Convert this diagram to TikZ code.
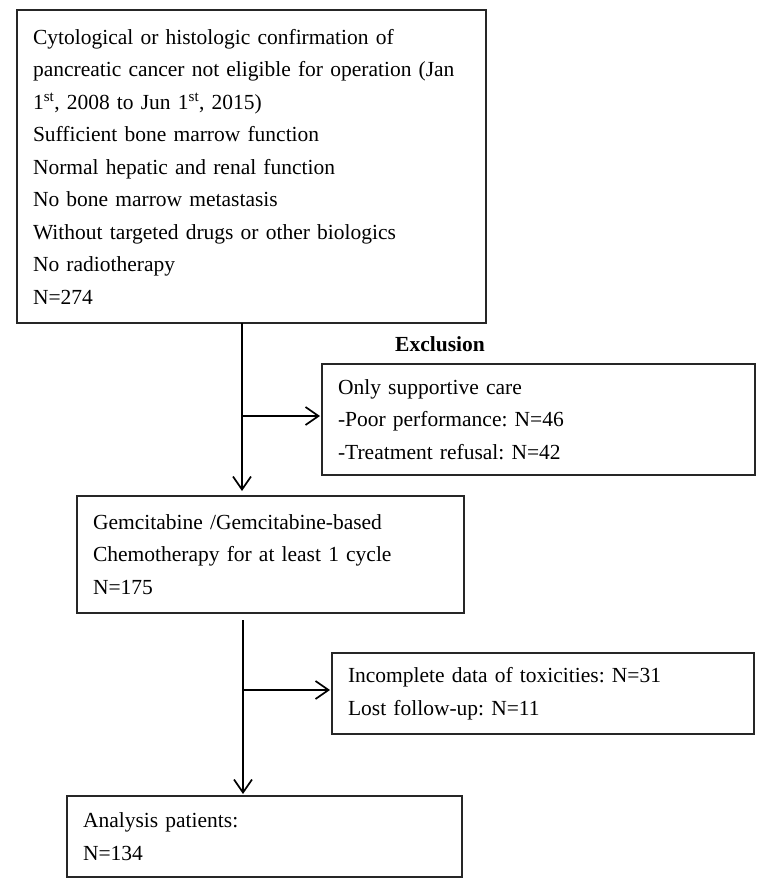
\documentclass[tikz,border=0pt]{standalone}
\usepackage{fontspec}
\setmainfont{Liberation Serif}
\usetikzlibrary{arrows.meta}
\frenchspacing
\begin{document}
\begin{tikzpicture}[x=1pt,y=-1pt,
  box/.style={draw=black!85, line width=1.3pt, anchor=north west,
    inner xsep=16pt, inner ysep=0pt, outer sep=0pt, align=left,
    font=\fontsize{21.5}{32.5}\selectfont},
  arr/.style={line width=1.7pt,
    -{Straight Barb[length=13pt,width=18pt,line width=1.7pt]}}]
\useasboundingbox (0,0) rectangle (765,888);

\node[box, text width=437pt, minimum height=313pt] (elig) at (17,10)
 {Cytological or histologic confirmation of\\
  pancreatic cancer not eligible for operation (Jan\\
  1\textsuperscript{st}, 2008 to Jun 1\textsuperscript{st}, 2015)\\
  Sufficient bone marrow function\\
  Normal hepatic and renal function\\
  No bone marrow metastasis\\
  Without targeted drugs or other biologics\\
  No radiotherapy\\
  N=274};

\node[font=\bfseries\fontsize{21.5}{26}\selectfont] (exlab) at (440,344) {Exclusion};

\node[box, text width=401pt, minimum height=111pt] (excl) at (322,364)
 {Only supportive care\\
  -Poor performance: N=46\\
  -Treatment refusal: N=42};

\node[box, text width=355pt, minimum height=117pt] (gem) at (77,496)
 {Gemcitabine /Gemcitabine-based\\
  Chemotherapy for at least 1 cycle\\
  N=175};

\node[box, text width=390pt, minimum height=81pt] (inc) at (332,653)
 {Incomplete data of toxicities: N=31\\
  Lost follow-up: N=11};

\node[box, text width=363pt, minimum height=81pt] (ana) at (67,796)
 {Analysis patients:\\
  N=134};

\coordinate (j1) at (242,416);
\coordinate (j2) at (243,690);

\draw[arr, shorten >=5pt] (elig.south -| j1) -- (j1 |- gem.north);
\draw[arr, shorten >=2pt] (j1) -- (j1 -| excl.west);
\draw[arr, shorten <=7pt, shorten >=2pt] (gem.south -| j2) -- (j2 |- ana.north);
\draw[arr, shorten >=2pt] (j2) -- (j2 -| inc.west);
\end{tikzpicture}
\end{document}
